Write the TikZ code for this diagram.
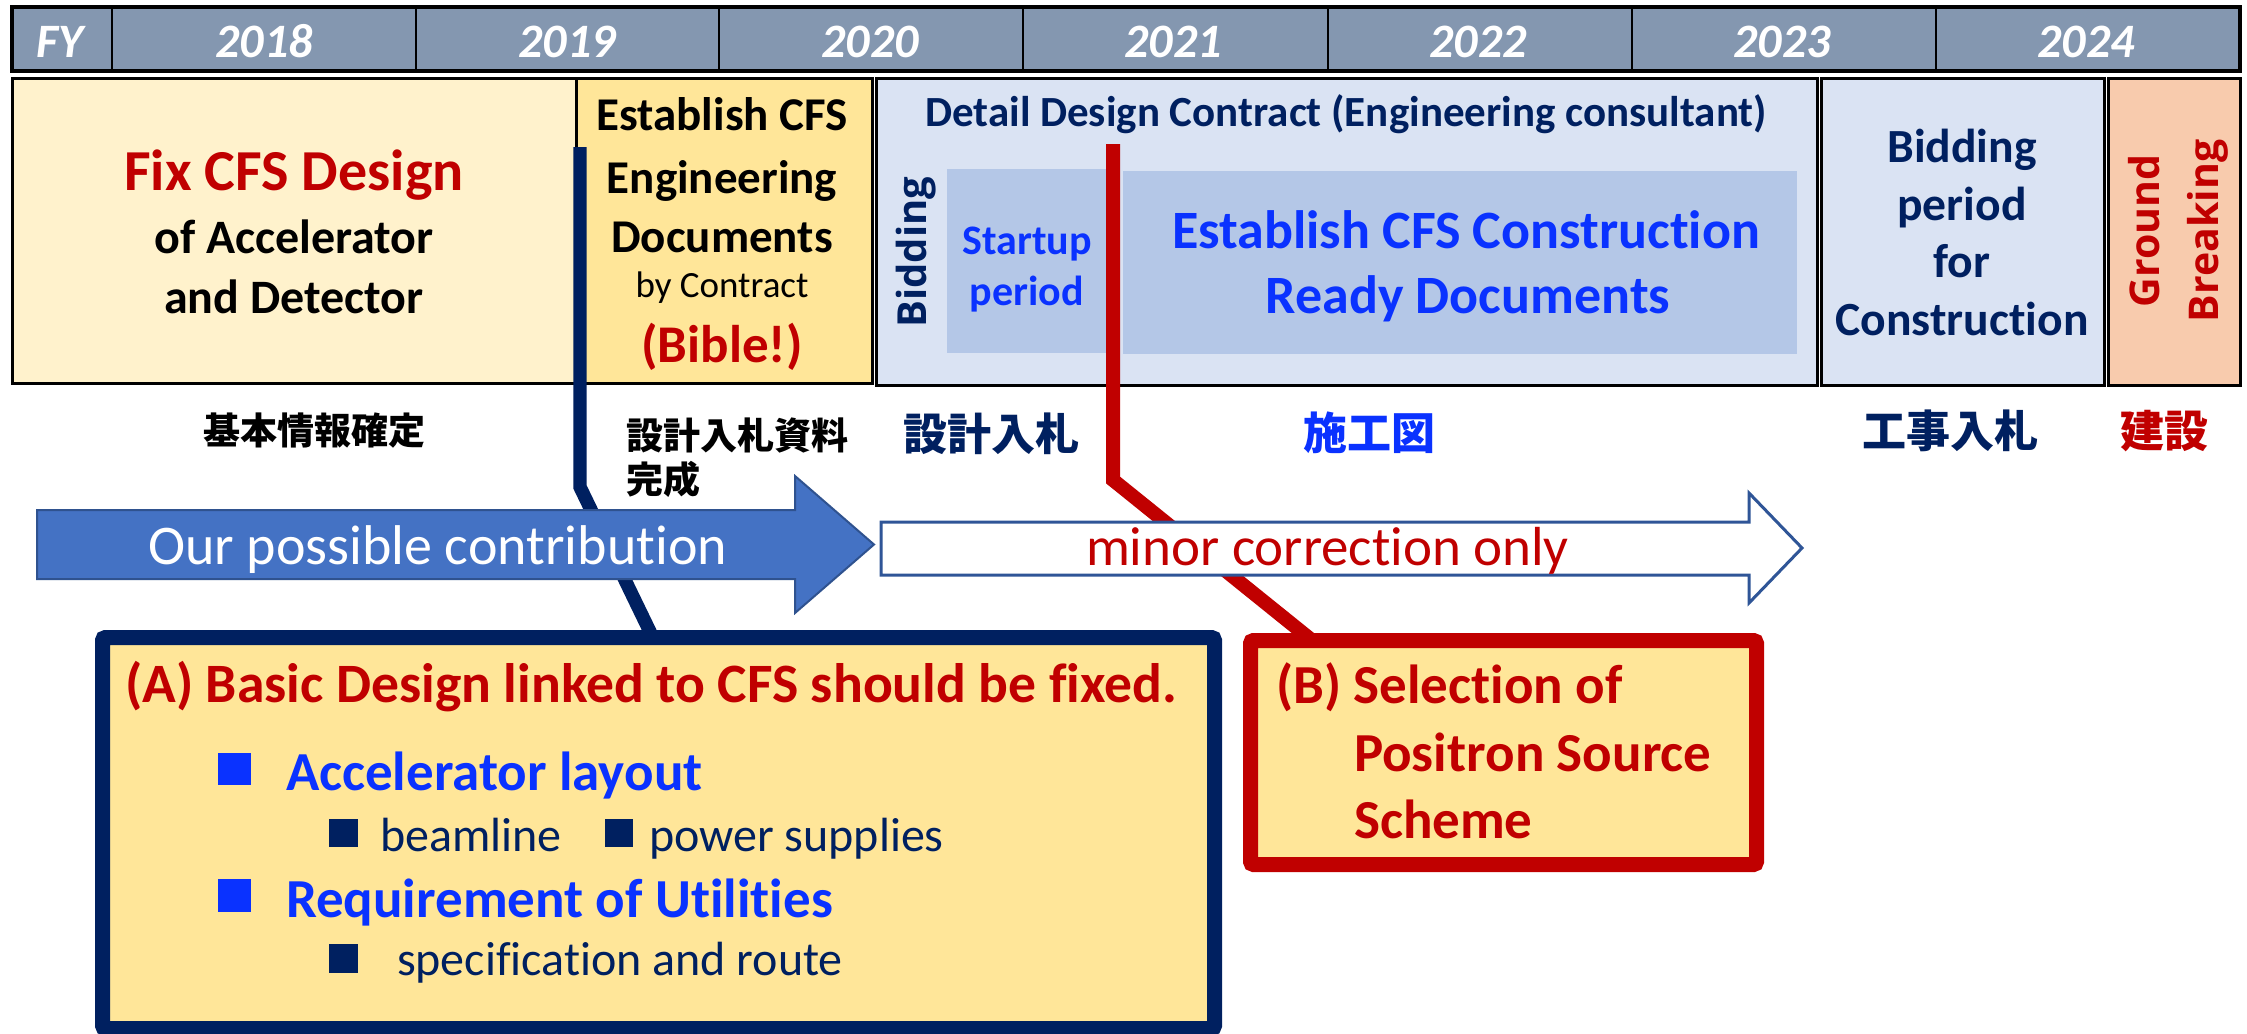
\documentclass[tikz,border=0pt]{standalone}
\usepackage{fontspec}
\setmainfont{Carlito}[Ligatures=NoCommon]
\newfontfamily\cjk{Noto Sans CJK JP}
\newfontfamily\osans{Open Sans}
\definecolor{hdr}{HTML}{8497B0}
\definecolor{lyel}{HTML}{FFF2CC}
\definecolor{gold}{HTML}{FFE699}
\definecolor{lblue}{HTML}{DAE3F3}
\definecolor{mblue}{HTML}{B4C7E7}
\definecolor{peach}{HTML}{F8CBAD}
\definecolor{dred}{HTML}{C00000}
\definecolor{navy}{HTML}{002060}
\definecolor{bblue}{HTML}{0A32FF}
\definecolor{arrblue}{HTML}{4472C4}
\definecolor{arredge}{HTML}{2F528F}
\definecolor{wedge}{HTML}{2F5597}
\begin{document}
\begin{tikzpicture}[x=0.5pt,y=-0.5pt,
  tx/.style={inner sep=0pt,outer sep=0pt,anchor=base},
  txw/.style={inner sep=0pt,outer sep=0pt,anchor=base west},
  yr/.style={tx,white,font=\fontsize{24}{28}\selectfont\bfseries\itshape},
  cellbox/.style={line width=1.5pt,draw=black},
  jp/.style={inner sep=0pt,outer sep=0pt,font=\cjk\bfseries\fontsize{22}{26}\selectfont},
  jps/.style={inner sep=0pt,outer sep=0pt,font=\cjk\bfseries\fontsize{18.5}{22}\selectfont},
  bul/.style={inner sep=0pt,outer sep=0pt,anchor=north west},
  callout/.style={line width=7.5pt,fill=gold,rounded corners=1.5pt},
  link/.style={line width=6.7pt},
]
\useasboundingbox (0,0) rectangle (2247,1033);
\fill[white] (0,0) rectangle (2247,1033);

% header
\draw[fill=hdr,line width=2pt] (12,7) rectangle (2240,71);
\foreach \x in {112,416,719,1023,1328,1632,1936} \draw[line width=1pt] (\x,7) -- (\x,71);
\node[yr] (fy) at (60,57) {FY};
\node[yr] (y18) at (264,57) {2018};
\node[yr] (y19) at (567,57) {2019};
\node[yr] (y20) at (870,57) {2020};
\node[yr] (y21) at (1173,57) {2021};
\node[yr] (y22) at (1478,57) {2022};
\node[yr] (y23) at (1782,57) {2023};
\node[yr] (y24) at (2086,57) {2024};

% top row boxes
\draw[cellbox,fill=lyel] (12,78) rectangle (576,383);
\draw[cellbox,fill=gold] (576,78) rectangle (872,383);
\draw[cellbox,fill=lblue] (876,78) rectangle (1817,385);
\fill[mblue] (947,169) rectangle (1107,353);
\fill[mblue] (1123,171) rectangle (1797,354);
\draw[cellbox,fill=lblue] (1821,78) rectangle (2104,385);
\draw[cellbox,fill=peach] (2108,78) rectangle (2240,385);

% box 1
\node[tx,dred,font=\fontsize{29}{34}\selectfont\bfseries] (fix) at (294,190) {Fix CFS Design};
\node[tx,font=\fontsize{24}{28}\selectfont\bfseries] (ofacc) at (294,253) {of Accelerator};
\node[tx,font=\fontsize{24}{28}\selectfont\bfseries] (anddet) at (294,313) {and Detector};
% box 2
\node[tx,font=\fontsize{23.5}{28}\selectfont\bfseries] (est1) at (722,130) {Establish CFS};
\node[tx,font=\fontsize{23.5}{28}\selectfont\bfseries] (est2) at (722,193) {Engineering};
\node[tx,font=\fontsize{23.5}{28}\selectfont\bfseries] (est3) at (722,252) {Documents};
\node[tx,font=\fontsize{18.5}{22}\selectfont] (bycon) at (722,297) {by Contract};
\node[tx,dred,font=\fontsize{26.5}{30}\selectfont\bfseries] (bible) at (722,362) {(Bible!)};
% box 3
\node[tx,navy,font=\fontsize{21.5}{26}\selectfont\bfseries] (detail) at (1346,126) {Detail Design Contract (Engineering consultant)};
\node[inner sep=0pt,rotate=90,navy,font=\osans\bfseries\fontsize{20}{24}\selectfont] (bid1) at (916,252) {Bidding};
\node[tx,bblue,font=\fontsize{21}{25}\selectfont\bfseries] (start1) at (1027,254) {Startup};
\node[tx,bblue,font=\fontsize{21}{25}\selectfont\bfseries] (start2) at (1027,305) {period};
\node[tx,bblue,font=\fontsize{27}{32}\selectfont\bfseries] (cons1) at (1466,248) {Establish CFS Construction};
\node[tx,bblue,font=\fontsize{27}{32}\selectfont\bfseries] (cons2) at (1468,313) {Ready Documents};
% box 4
\node[tx,navy,font=\fontsize{23.8}{28}\selectfont\bfseries] (bp1) at (1962,162) {Bidding};
\node[tx,navy,font=\fontsize{23.8}{28}\selectfont\bfseries] (bp2) at (1962,220) {period};
\node[tx,navy,font=\fontsize{23.8}{28}\selectfont\bfseries] (bp3) at (1962,277) {for};
\node[tx,navy,font=\fontsize{23.8}{28}\selectfont\bfseries] (bp4) at (1962,335) {Construction};
% box 5
\node[inner sep=0pt,rotate=90,dred,align=center,font=\osans\bfseries\fontsize{20.5}{29.5}\selectfont] (gb) at (2178,231) {Ground\\Breaking};

% Japanese labels
\node[jps] (jp1) at (314,431) {基本情報確定};
\node[jps,anchor=west] (jp2a) at (626,435) {設計入札資料};
\node[jps,anchor=west] (jp2b) at (626,479) {完成};
\node[jp,navy] (jp3) at (991,434) {設計入札};
\node[jp,bblue] (jp4) at (1369,433) {施工図};
\node[jp,navy] (jp5) at (1950,431) {工事入札};
\node[jp,dred] (jp6) at (2164,431) {建設};

% connectors
\coordinate (bT) at (580,147);
\coordinate (bM) at (580,487);
\coordinate (bE) at (654,640);
\coordinate (rT) at (1113,144);
\coordinate (rM) at (1113,480);
\coordinate (rE) at (1314,642);
\draw[link,navy] (bT) -- (bM) -- (bE);
\draw[link,dred,line width=7pt] (rT) -- (rM) -- (rE);

% arrows
\draw[fill=arrblue,draw=arredge,line width=1pt]
  (37,510) -- (795,510) -- (795,476) -- (874,544.5) -- (795,613) -- (795,579) -- (37,579) -- cycle;
\node[txw,white,font=\fontsize{28}{32}\selectfont] (contrib) at (148,564) {Our possible contribution};
\draw[fill=white,draw=wedge,line width=1.5pt]
  (881,522) -- (1749,522) -- (1749,493) -- (1802,548) -- (1749,603) -- (1749,575) -- (881,575) -- cycle;
\node[txw,dred,font=\fontsize{27.5}{32}\selectfont] (minor) at (1086,565) {minor correction only};

% callout A
\draw[callout,draw=navy] (102.5,637.5) rectangle (1214.5,1028.5);
\node[txw,dred,font=\fontsize{27.8}{32}\selectfont\bfseries] (atitle) at (125,702) {(A) Basic Design linked to CFS should be fixed.};
\node[bul,fill=bblue,minimum width=16.5pt,minimum height=16pt] (bu1) at (218,753) {};
\node[txw,bblue,font=\fontsize{27.5}{32}\selectfont\bfseries] (acc) at (286,790) {Accelerator layout};
\node[bul,fill=navy,minimum width=14.5pt,minimum height=14pt] (sb1) at (329,819) {};
\node[txw,navy,font=\fontsize{24}{28}\selectfont] (beam) at (380,851) {beamline};
\node[bul,fill=navy,minimum width=14pt,minimum height=14pt] (sb2) at (605,819) {};
\node[txw,navy,font=\fontsize{24}{28}\selectfont] (power) at (649,851) {power supplies};
\node[bul,fill=bblue,minimum width=16.5pt,minimum height=16.5pt] (bu2) at (218,879) {};
\node[txw,bblue,font=\fontsize{27.5}{32}\selectfont\bfseries] (req) at (286,917) {Requirement of Utilities};
\node[bul,fill=navy,minimum width=14.5pt,minimum height=14.5pt] (sb3) at (329,944) {};
\node[txw,navy,font=\fontsize{24}{28}\selectfont] (spec) at (397,975) {specification and route};

% callout B
\draw[callout,draw=dred] (1250.5,640.5) rectangle (1756.5,864.5);
\node[txw,dred,font=\fontsize{27.5}{32}\selectfont\bfseries] (b1) at (1276,703) {(B) Selection of};
\node[txw,dred,font=\fontsize{27.5}{32}\selectfont\bfseries] (b2) at (1354,771) {Positron Source};
\node[txw,dred,font=\fontsize{27.5}{32}\selectfont\bfseries] (b3) at (1354,838) {Scheme};
\end{tikzpicture}
\end{document}
